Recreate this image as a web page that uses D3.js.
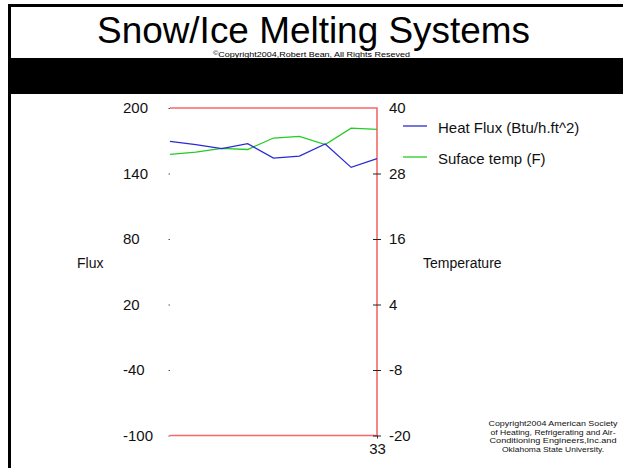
<!DOCTYPE html>
<html><head><meta charset="utf-8">
<script src="https://cdn.jsdelivr.net/npm/d3@7/dist/d3.min.js"></script>
<style>
html,body{margin:0;padding:0;background:#fff;}
svg{display:block;font-family:"Liberation Sans",Arial,Helvetica,sans-serif;}
</style></head>
<body>
<svg id="c" width="623" height="468"></svg>
<script>
const categories = [25, 26, 27, 28, 29, 30, 31, 32, 33];
const heatFlux = [169.5, 166.4, 162.8, 167.3, 154.1, 156.0, 167.0, 145.6, 153.6];
const surfaceTemp = [31.5, 31.9, 32.6, 32.4, 34.5, 34.8, 33.3, 36.3, 36.1];
const fluxTicks = [200, 140, 80, 20, -40, -100];
const tempTicks = [40, 28, 16, 4, -8, -20];
const xTickLabels = [33];
const seriesNames = ["Heat Flux (Btu/h.ft^2)", "Suface temp (F)"];

const svg = d3.select("#c");
// page frame
svg.append("rect").attr("x", 8).attr("y", 4).attr("width", 615).attr("height", 3).attr("fill", "#000");
svg.append("rect").attr("x", 8).attr("y", 4).attr("width", 3).attr("height", 464).attr("fill", "#000");
svg.append("rect").attr("x", 8).attr("y", 58).attr("width", 615).attr("height", 36).attr("fill", "#000");

svg.append("text").attr("x", 97).attr("y", 43).attr("font-size", 37)
  .attr("textLength", 433).attr("lengthAdjust", "spacingAndGlyphs")
  .text("Snow/Ice Melting Systems");
const cp = svg.append("text").attr("x", 213).attr("y", 57).attr("font-size", 7.5)
  .attr("textLength", 197).attr("lengthAdjust", "spacingAndGlyphs");
cp.append("tspan").attr("font-size", 6).attr("dy", -2).text("©");
cp.append("tspan").attr("dy", 2).text("Copyright2004,Robert Bean, All Rights Reseved");

const L = 170, R = 377, T = 108, B = 435.5;
const x = d3.scalePoint().domain(categories).range([L, R]);
const yF = d3.scaleLinear().domain([-100, 200]).range([B, T]);
const yT = d3.scaleLinear().domain([-20, 40]).range([B, T]);
const fmt = d => String(d);

// left axis
const ax = svg.append("g").attr("transform", `translate(${L},0)`)
  .call(d3.axisLeft(yF).tickValues(fluxTicks).tickSize(1.5).tickFormat(fmt));
ax.select(".domain").remove();
ax.selectAll(".tick line").attr("stroke", "#555");
ax.selectAll(".tick text").attr("x", -47).attr("text-anchor", "start")
  .attr("font-size", 15).attr("font-family", null).attr("fill", "#111");

// frame (red)
const red = "#f46a6a";
svg.append("path").attr("d", `M${L},${T}H${R}V${B}H${L}`).attr("fill", "none")
  .attr("stroke", red).attr("stroke-width", 1.6);

// lines
const lineF = d3.line().x((d, i) => x(categories[i])).y(d => yF(d));
const lineT = d3.line().x((d, i) => x(categories[i])).y(d => yT(d));
svg.append("path").datum(surfaceTemp).attr("d", lineT).attr("fill", "none")
  .attr("stroke", "#22cc22").attr("stroke-width", 1.3);
svg.append("path").datum(heatFlux).attr("d", lineF).attr("fill", "none")
  .attr("stroke", "#2a2ad8").attr("stroke-width", 1.3);

// right axis
const ar = svg.append("g").attr("transform", `translate(${R},0)`)
  .call(d3.axisRight(yT).tickValues(tempTicks).tickSize(4).tickFormat(fmt));
ar.select(".domain").remove();
ar.selectAll(".tick line").attr("x1", -4).attr("x2", 4).attr("stroke", "#222")
  .attr("opacity", d => d === 40 ? 0 : 1);
ar.selectAll(".tick text").attr("x", 12).attr("text-anchor", "start")
  .attr("font-size", 15).attr("font-family", null).attr("fill", "#111");

// bottom axis
const ab = svg.append("g").attr("transform", `translate(0,${B})`)
  .call(d3.axisBottom(x).tickValues(xTickLabels).tickSize(3).tickFormat(fmt));
ab.select(".domain").remove();
ab.selectAll(".tick line").attr("stroke", "#333");
ab.selectAll(".tick text").attr("y", 8).attr("font-size", 15).attr("font-family", null).attr("fill", "#111");

// axis titles
svg.append("text").attr("x", 77).attr("y", 268).attr("font-size", 14).attr("fill", "#111").text("Flux");
svg.append("text").attr("x", 423).attr("y", 268).attr("font-size", 14).attr("fill", "#111").text("Temperature");

// legend
const leg = [{c: "#2a2ad8", y: 126}, {c: "#22cc22", y: 157}];
leg.forEach((l, i) => {
  svg.append("line").attr("x1", 403).attr("x2", 427).attr("y1", l.y).attr("y2", l.y)
    .attr("stroke", l.c).attr("stroke-width", 1.3);
  svg.append("text").attr("x", 438).attr("y", l.y + 7).attr("font-size", 15).attr("fill", "#111")
    .text(seriesNames[i]);
});

// bottom-right copyright
const note = [
  ["Copyright2004 American Society", 129],
  ["of Heating, Refrigerating and Air-", 125],
  ["Conditioning Engineers,Inc.and", 127],
  ["Oklahoma State University.", 102]
];
note.forEach((n, i) => {
  svg.append("text").attr("x", 553 - n[1] / 2).attr("y", 426 + i * 8.5).attr("font-size", 8)
    .attr("textLength", n[1]).attr("lengthAdjust", "spacingAndGlyphs").attr("fill", "#111").text(n[0]);
});
</script>
</body></html>
